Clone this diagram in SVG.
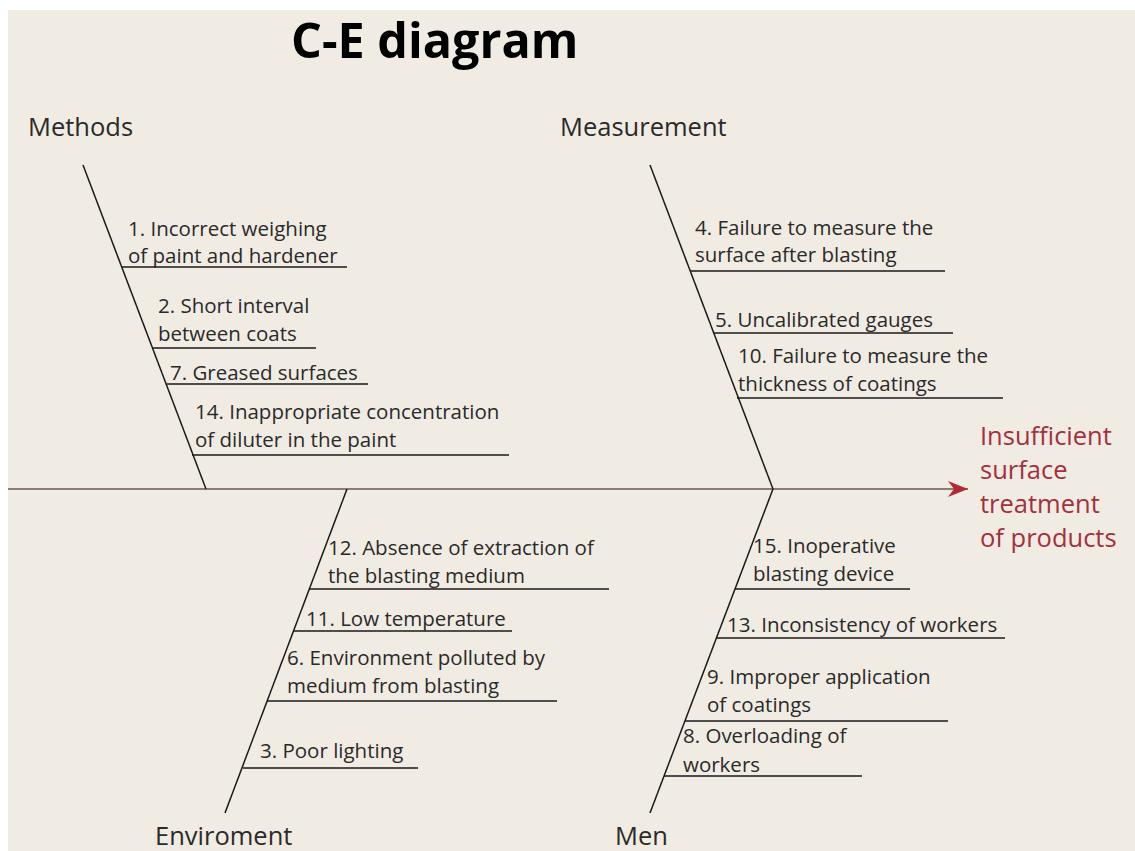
<svg xmlns="http://www.w3.org/2000/svg" width="1135" height="851" viewBox="0 0 1135 851">
<style>
.bg{fill:#F0ECE3}
.bone{stroke:#1a1a1a;stroke-width:1.5;fill:none}
.sub{stroke:#1a1a1a;stroke-width:1.6;fill:none}
.t{font-family:"Open Sans","Noto Sans",sans-serif;font-size:20.5px;fill:#2a2a2a}
.cat{font-family:"Open Sans","Noto Sans",sans-serif;font-size:25.5px;fill:#2a2a2a}
.title{font-family:"Open Sans","Noto Sans",sans-serif;font-size:48.5px;font-weight:bold;fill:#000}
.eff{font-family:"Open Sans","Noto Sans",sans-serif;font-size:25.5px;fill:#A3303E}
</style>
<defs>
<marker id="ah" viewBox="0 0 20 16" refX="20" refY="8" markerWidth="20" markerHeight="16" markerUnits="userSpaceOnUse" orient="auto">
<path d="M0,0 L20,8 L0,16 L6,8 Z" fill="#B02A36"/>
</marker>
</defs>
<rect width="1135" height="851" fill="#ffffff"/>
<rect class="bg" x="8" y="10" width="1127" height="841"/>
<text class="title" x="291" y="58">C-E diagram</text>
<g id="connectors">
<line x1="8" y1="489" x2="968" y2="489" stroke="#8d7b78" stroke-width="2" marker-end="url(#ah)"/>
<line class="bone" x1="83" y1="165" x2="206" y2="489"/>
<line class="bone" x1="650" y1="165" x2="773" y2="489"/>
<line class="bone" x1="347" y1="489" x2="225" y2="813"/>
<line class="bone" x1="773" y1="489" x2="650" y2="813"/>
</g>
<g id="effect">
<text class="eff" x="980" y="445">Insufficient</text>
<text class="eff" x="980" y="479">surface</text>
<text class="eff" x="980" y="513">treatment</text>
<text class="eff" x="980" y="547">of products</text>
</g>
<g id="methods">
<text class="cat" x="28" y="136">Methods</text>
<g id="c1"><line class="sub" x1="122" y1="267" x2="347" y2="267"/><text class="t" x="128" y="236">1. Incorrect weighing</text><text class="t" x="128" y="263">of paint and hardener</text></g>
<g id="c2"><line class="sub" x1="153" y1="348" x2="316" y2="348"/><text class="t" x="158" y="313">2. Short interval</text><text class="t" x="158" y="341">between coats</text></g>
<g id="c7"><line class="sub" x1="167" y1="384" x2="368" y2="384"/><text class="t" x="170" y="380">7. Greased surfaces</text></g>
<g id="c14"><line class="sub" x1="192" y1="455" x2="509" y2="455"/><text class="t" x="195" y="419">14. Inappropriate concentration</text><text class="t" x="195" y="447">of diluter in the paint</text></g>
</g>
<g id="measurement">
<text class="cat" x="560" y="136">Measurement</text>
<g id="c4"><line class="sub" x1="690" y1="271" x2="945" y2="271"/><text class="t" x="695" y="235">4. Failure to measure the</text><text class="t" x="695" y="262">surface after blasting</text></g>
<g id="c5"><line class="sub" x1="713" y1="333" x2="953" y2="333"/><text class="t" x="715" y="327">5. Uncalibrated gauges</text></g>
<g id="c10"><line class="sub" x1="737" y1="398" x2="1003" y2="398"/><text class="t" x="738" y="363">10. Failure to measure the</text><text class="t" x="738" y="391">thickness of coatings</text></g>
</g>
<g id="environment">
<text class="cat" x="155" y="845">Enviroment</text>
<g id="c12"><line class="sub" x1="309" y1="589" x2="609" y2="589"/><text class="t" x="328" y="555">12. Absence of extraction of</text><text class="t" x="328" y="583">the blasting medium</text></g>
<g id="c11"><line class="sub" x1="294" y1="631" x2="512" y2="631"/><text class="t" x="306" y="626">11. Low temperature</text></g>
<g id="c6"><line class="sub" x1="267" y1="701" x2="557" y2="701"/><text class="t" x="287" y="665">6. Environment polluted by</text><text class="t" x="287" y="693">medium from blasting</text></g>
<g id="c3"><line class="sub" x1="243" y1="768" x2="418" y2="768"/><text class="t" x="260" y="758">3. Poor lighting</text></g>
</g>
<g id="men">
<text class="cat" x="615" y="845">Men</text>
<g id="c15"><line class="sub" x1="735" y1="589" x2="910" y2="589"/><text class="t" x="753" y="553">15. Inoperative</text><text class="t" x="753" y="581">blasting device</text></g>
<g id="c13"><line class="sub" x1="716" y1="638" x2="1005" y2="638"/><text class="t" x="727" y="632">13. Inconsistency of workers</text></g>
<g id="c9"><line class="sub" x1="685" y1="721" x2="948" y2="721"/><text class="t" x="707" y="684">9. Improper application</text><text class="t" x="707" y="712">of coatings</text></g>
<g id="c8"><line class="sub" x1="664" y1="776" x2="862" y2="776"/><text class="t" x="683" y="743">8. Overloading of</text><text class="t" x="683" y="772">workers</text></g>
</g>
</svg>
